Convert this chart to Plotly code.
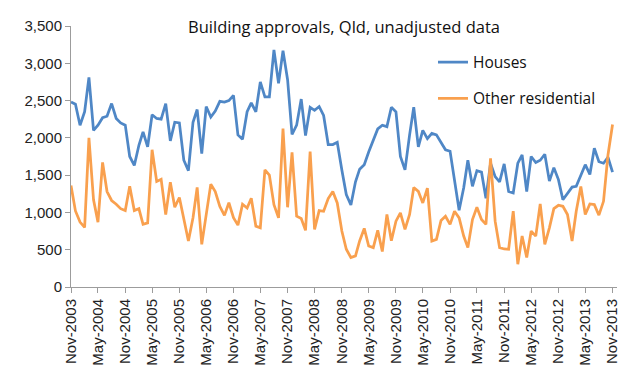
import pandas as pd
import plotly.graph_objects as go

start_month = "2003-11-01"
n_months = 121
months = pd.date_range(start_month, periods=n_months, freq="MS")

houses = [2480, 2450, 2170, 2350, 2810, 2100, 2170, 2270, 2290, 2460,
          2260, 2200, 2170, 1750, 1630, 1900, 2080, 1880, 2310, 2260,
          2250, 2460, 1960, 2210, 2200, 1700, 1560, 2210, 2380, 1790,
          2420, 2280, 2360, 2490, 2480, 2500, 2570, 2040, 1980, 2350,
          2470, 2350, 2750, 2550, 2550, 3180, 2730, 3170, 2780, 2045,
          2170, 2520, 2030, 2410, 2370, 2420, 2300, 1910, 1910, 1940,
          1570, 1240, 1100, 1410, 1580, 1640, 1810, 1970, 2120, 2170,
          2150, 2410, 2350, 1750, 1570, 2040, 2410, 1880, 2100, 1990,
          2060, 2040, 1930, 1840, 1820, 1440, 1030, 1330, 1700, 1350,
          1560, 1540, 1190, 1660, 1480, 1410, 1650, 1280, 1260, 1660,
          1770, 1280, 1750, 1670, 1700, 1780, 1420, 1600, 1440, 1170,
          1260, 1340, 1350, 1500, 1640, 1510, 1860, 1680, 1660, 1740,
          1540]

other_residential = [1360, 1020, 870, 800, 2000, 1170, 870, 1670, 1280, 1160,
                     1110, 1050, 1025, 1350, 1025, 1050, 840, 860, 1840, 1415,
                     1445, 970, 1405, 1070, 1200, 925, 617, 930, 1335, 572,
                     980, 1380, 1280, 1080, 960, 1130, 930, 830, 1110, 1060,
                     1190, 816, 794, 1570, 1500, 1105, 927, 2125, 1069, 1806,
                     949, 918, 759, 1815, 772, 1025, 1016, 1185, 1282, 1127,
                     750, 506, 395, 417, 617, 785, 550, 528, 759, 475,
                     972, 620, 883, 994, 772, 972, 1335, 1282, 1127, 1326,
                     617, 639, 892, 949, 839, 1016, 927, 683, 528, 905,
                     1069, 905, 839, 1726, 883, 528, 510, 506, 1016, 306,
                     683, 395, 750, 683, 1114, 572, 794, 1051, 1096, 1082,
                     972, 617, 1016, 1349, 972, 1114, 1105, 963, 1149, 1770,
                     2178]

series_names = ["Houses", "Other residential"]
title_text = "Building approvals, Qld, unadjusted data"

fig = go.Figure()
fig.add_trace(go.Scatter(x=months, y=houses, mode="lines", name=series_names[0],
                         legendgroup="a",
                         line=dict(color="#4F87C6", width=2.75)))
fig.add_trace(go.Scatter(x=months, y=other_residential, mode="lines", name=series_names[1],
                         legendgroup="b",
                         line=dict(color="#F9A04E", width=2.75)))

axis_col = "#9C9C9C"
fig.update_layout(
    width=639, height=384,
    margin=dict(l=71, r=22, t=26, b=97),
    paper_bgcolor="white", plot_bgcolor="white",
    title=dict(text=title_text, x=0.5, xref="paper", y=0.93, yref="container",
               yanchor="middle", xanchor="center",
               font=dict(family="Open Sans", size=16.5, color="#111")),
    showlegend=True,
    legend=dict(x=0.663, y=0.925, xanchor="left", yanchor="top",
                font=dict(family="Open Sans", size=15.5, color="#111"),
                tracegroupgap=13, bgcolor="rgba(0,0,0,0)"),
    xaxis=dict(type="date", range=["2003-11-01", "2013-12-01"],
               tick0="2003-11-01", dtick="M6", tickformat="%b-%Y",
               tickangle=-90, showgrid=False, zeroline=False,
               showline=True, linecolor=axis_col, linewidth=1,
               ticks="outside", ticklen=5, tickcolor=axis_col,
               tickfont=dict(family="Liberation Sans", size=15, color="#222")),
    yaxis=dict(range=[0, 3500], dtick=500, tickformat=",", showgrid=False,
               zeroline=False, showline=True, linecolor=axis_col, linewidth=1,
               ticks="outside", ticklen=5, tickcolor=axis_col,
               tickfont=dict(family="Liberation Sans", size=15, color="#222")),
)

fig.write_html("out.html",
               config={"displayModeBar": False},
               post_script="document.body.style.margin='0';document.body.style.padding='0';")
